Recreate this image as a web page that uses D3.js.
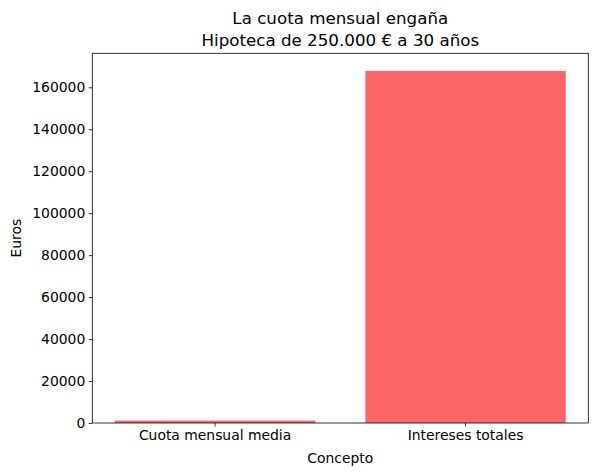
<!DOCTYPE html>
<html>
<head>
<meta charset="utf-8">
<script src="https://cdn.jsdelivr.net/npm/d3@7.9.0/dist/d3.min.js"></script>
<style>
  body { margin: 0; background: #fff; }
  svg { font-family: "DejaVu Sans", sans-serif; }
</style>
</head>
<body>
<svg width="598" height="476"></svg>
<script>
// chart data
const categories = ['Cuota mensual media', 'Intereses totales'];
const values = [1160.5, 167800];
const yTicks = [0, 20000, 40000, 60000, 80000, 100000, 120000, 140000, 160000];
const titleLines = ['La cuota mensual engaña', 'Hipoteca de 250.000 € a 30 años'];

const margin = { left: 92.3, right: 588.3, top: 53.3, bottom: 423 };
const svg = d3.select('svg');

// x band scale, matplotlib-like margins
let x = d3.scaleBand()
    .domain(categories)
    .range([margin.left, margin.right])
    .paddingInner(0.2)
    .paddingOuter(0.09);

// y scale with 5% headroom
let y = d3.scaleLinear()
    .domain([0, d3.max(values) * 1.05])
    .range([margin.bottom, margin.top]);

// bars
svg.selectAll('rect.bar')
    .data(values)
    .enter()
    .append('rect')
    .attr('class', 'bar')
    .attr('x', (d, i) => x(categories[i]))
    .attr('width', x.bandwidth())
    .attr('y', d => y(d))
    .attr('height', d => y(0) - y(d))
    .attr('fill', '#ff6666');

// axes
let yAxis = d3.axisLeft(y).tickValues(yTicks).tickFormat(d3.format('d')).tickSize(3.5).tickPadding(3.5);
let gy = svg.append('g').attr('transform', `translate(${margin.left},0)`).call(yAxis);
let xAxis = d3.axisBottom(x).tickSize(3.5).tickPadding(3.5);
let gx = svg.append('g').attr('transform', `translate(0,${margin.bottom})`).call(xAxis);

[gx, gy].forEach(g => {
    g.select('.domain').remove();
    g.selectAll('.tick line').attr('stroke', '#000').attr('stroke-width', 0.8);
    g.selectAll('.tick text').attr('fill', '#000').style('font-size', '13.9px').style('font-family', '"DejaVu Sans", sans-serif');
});

// frame
svg.append('rect')
    .attr('x', margin.left)
    .attr('y', margin.top)
    .attr('width', margin.right - margin.left)
    .attr('height', margin.bottom - margin.top)
    .attr('fill', 'none')
    .attr('stroke', '#000')
    .attr('stroke-width', 0.8);

// labels
svg.append('text')
    .attr('x', (margin.left + margin.right) / 2)
    .attr('y', 463)
    .attr('text-anchor', 'middle')
    .style('font-size', '13.9px')
    .text('Concepto');

svg.append('text')
    .attr('transform', `translate(21,${(margin.top + margin.bottom) / 2}) rotate(-90)`)
    .attr('text-anchor', 'middle')
    .style('font-size', '13.9px')
    .text('Euros');

// title
titleLines.forEach((t, i) => {
    svg.append('text')
        .attr('x', (margin.left + margin.right) / 2)
        .attr('y', 24 + i * 21.5)
        .attr('text-anchor', 'middle')
        .style('font-size', '16.7px')
        .text(t);
});
</script>
</body>
</html>
